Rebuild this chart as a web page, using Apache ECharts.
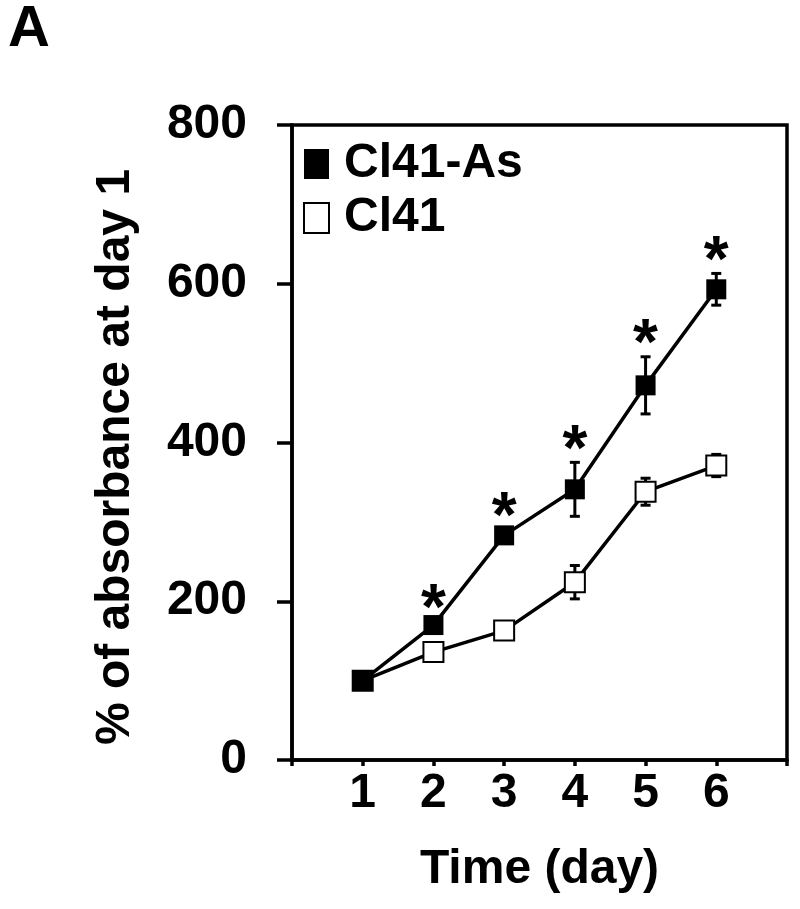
<!DOCTYPE html>
<html>
<head>
<meta charset="utf-8">
<script src="https://cdn.jsdelivr.net/npm/echarts@6/dist/echarts.min.js"></script>
<style>html,body{margin:0;padding:0;background:#fff}#c{width:800px;height:909px}</style>
</head>
<body>
<div id="c"></div>
<script>
var days = [1, 2, 3, 4, 5, 6];
var xTickLabels = ['1', '2', '3', '4', '5', '6'];
var yTicks = [0, 200, 400, 600, 800];
var cl41As = [100, 170, 283, 341, 472, 593];
var cl41AsErr = [0, 5, 8, 34, 36, 20];
var cl41 = [100, 136, 163, 224, 338, 371];
var cl41Err = [0, 3, 4, 21, 17, 14];
var significant = [false, true, true, true, true, true];

var FONT = '"Liberation Sans", Arial, Helvetica, sans-serif';
var chart = echarts.init(document.getElementById('c'), null, {renderer: 'canvas'});

function pts(vals) { return days.map(function (d, i) { return [d, vals[i]]; }); }
function errData(vals, errs) { return days.map(function (d, i) { return [d, vals[i] - errs[i], vals[i] + errs[i]]; }); }

function errRender(params, api) {
  var x = api.value(0), lo = api.value(1), hi = api.value(2);
  var p1 = api.coord([x, lo]), p2 = api.coord([x, hi]);
  var cw = 5;
  var st = {stroke: '#000', lineWidth: 3};
  return {type: 'group', children: [
    {type: 'line', shape: {x1: p1[0], y1: p1[1], x2: p2[0], y2: p2[1]}, style: st},
    {type: 'line', shape: {x1: p1[0] - cw, y1: p1[1], x2: p1[0] + cw, y2: p1[1]}, style: st},
    {type: 'line', shape: {x1: p2[0] - cw, y1: p2[1], x2: p2[0] + cw, y2: p2[1]}, style: st}
  ]};
}

var starData = [];
days.forEach(function (d, i) { if (significant[i]) starData.push([d, cl41As[i] + cl41AsErr[i]]); });

var option = {
  backgroundColor: '#fff',
  animation: false,
  title: {text: 'A', left: 8, top: 1, padding: 0,
    textStyle: {fontFamily: FONT, fontWeight: 'bold', fontSize: 58, color: '#000'}},
  legend: {
    orient: 'vertical', left: 303, top: 140, padding: 0,
    itemWidth: 25, itemHeight: 30, itemGap: 6, selectedMode: false,
    textStyle: {fontFamily: FONT, fontWeight: 'bold', fontSize: 48, color: '#000', lineHeight: 38, padding: [0, 0, 0, 10]},
    data: [
      {name: 'Cl41-As', icon: 'rect', itemStyle: {color: '#000', borderWidth: 0}},
      {name: 'Cl41', icon: 'rect', itemStyle: {color: '#fff', borderColor: '#000', borderWidth: 2}}
    ]
  },
  grid: {left: 292, right: 13, top: 125, bottom: 149, show: true, borderColor: '#000', borderWidth: 3.5, backgroundColor: 'transparent'},
  xAxis: {
    type: 'value', min: 0, max: 7, interval: 1,
    name: 'Time (day)', nameLocation: 'middle', nameGap: 86,
    nameTextStyle: {fontFamily: FONT, fontWeight: 'bold', fontSize: 48, color: '#000'},
    axisLine: {show: true, lineStyle: {color: '#000', width: 3.5}},
    axisTick: {show: true, length: 6, lineStyle: {color: '#000', width: 3.5}},
    splitLine: {show: false},
    axisLabel: {margin: 10, fontFamily: FONT, fontWeight: 'bold', fontSize: 48, color: '#000',
      formatter: function (v) { var i = days.indexOf(v); return i >= 0 ? xTickLabels[i] : ''; }}
  },
  yAxis: {
    type: 'value', min: yTicks[0], max: yTicks[yTicks.length - 1], interval: 200,
    axisLine: {show: true, lineStyle: {color: '#000', width: 3.5}},
    axisTick: {show: true, length: 15, lineStyle: {color: '#000', width: 3.5}},
    splitLine: {show: false},
    axisLabel: {margin: 45, fontFamily: FONT, fontWeight: 'bold', fontSize: 48, color: '#000'}
  },
  graphic: [{
    type: 'text', x: 116, y: 457, rotation: Math.PI / 2,
    style: {text: '% of absorbance at day 1', fontFamily: FONT, fontWeight: 'bold', fontSize: 48, fill: '#000', align: 'center', verticalAlign: 'middle'}
  }],
  series: [
    {type: 'custom', name: 'errCl41', z: 1, renderItem: errRender, data: errData(cl41, cl41Err), silent: true},
    {type: 'custom', name: 'errAs', z: 1, renderItem: errRender, data: errData(cl41As, cl41AsErr), silent: true},
    {type: 'line', name: 'Cl41', z: 3, data: pts(cl41), symbol: 'rect', symbolSize: 20,
      lineStyle: {color: '#000', width: 3.5}, itemStyle: {color: '#fff', borderColor: '#000', borderWidth: 2}},
    {type: 'line', name: 'Cl41-As', z: 4, data: pts(cl41As), symbol: 'rect', symbolSize: 20,
      lineStyle: {color: '#000', width: 3.5}, itemStyle: {color: '#000', borderColor: '#000', borderWidth: 0}},
    {type: 'custom', name: 'stars', z: 5, silent: true, data: starData,
      renderItem: function (params, api) {
        var p = api.coord([api.value(0), api.value(1)]);
        return {type: 'text', x: p[0], y: p[1] - 10,
          style: {text: '*', fontFamily: FONT, fontWeight: 'bold', fontSize: 64, fill: '#000', align: 'center', verticalAlign: 'middle'}};
      }}
  ]
};
chart.setOption(option);
</script>
</body>
</html>
